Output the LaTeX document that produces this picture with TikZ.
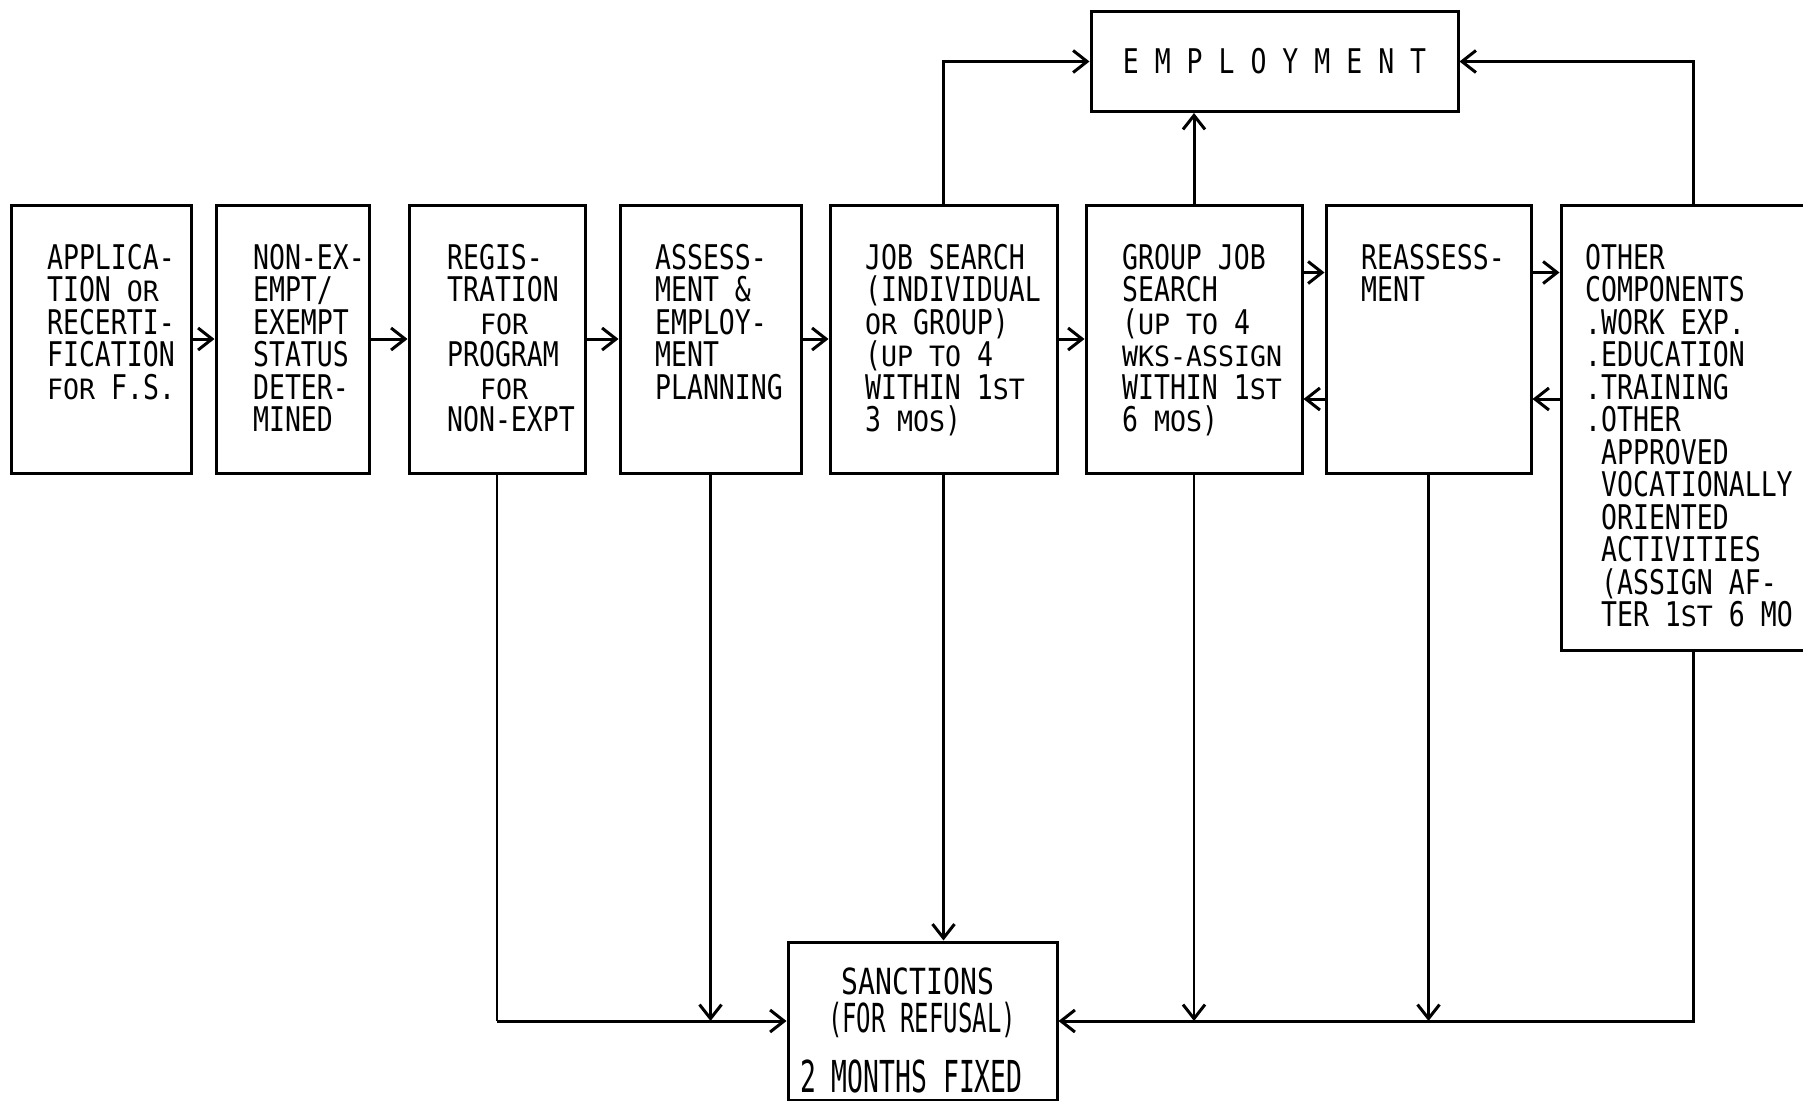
\documentclass[tikz,border=0pt]{standalone}
\usepackage{fontspec}
\usetikzlibrary{arrows.meta}
\newfontfamily\typer{DejaVu Sans Mono}[FakeStretch=0.78]
\newfontfamily\smtyper{DejaVu Sans Mono}[FakeStretch=0.95]
\newfontfamily\narrowtyper{DejaVu Sans Mono}[FakeStretch=0.6]
\newcommand{\sm}[1]{{\smtyper\fontsize{28}{32.5}\selectfont #1}}

\tikzset{every picture/.style={line width=2.2pt}}
\tikzset{
	stage/.style={draw, line width=3pt, inner sep=0pt, minimum height=268pt},
	stagetext/.style={anchor=north west, inner sep=0pt, align=left, font=\typer\fontsize{34}{32.5}\selectfont},
	flow/.style={line width=3pt, -{Straight Barb[length=14pt,width=22pt]}},
	drop/.style={line width=2.2pt, -{Straight Barb[length=14pt,width=22pt,line width=3pt]}}
}

\begin{document}
\begin{tikzpicture}[x=1pt,y=1pt,yscale=-1,xscale=1]
	\useasboundingbox (0,0) rectangle (1803,1100);

	%Shape: Rectangles
	\node[stage, minimum width=179.5pt] (app) at (101.25,339) {};
	\node[stage, minimum width=153pt] (stat) at (292.5,339) {};
	\node[stage, minimum width=176pt] (reg) at (497,339) {};
	\node[stage, minimum width=181pt] (asm) at (710.5,339) {};
	\node[stage, minimum width=227pt] (job) at (943.5,339) {};
	\node[stage, minimum width=216pt] (grp) at (1194,339) {};
	\node[stage, minimum width=205pt] (rea) at (1428.5,339) {};
	\node[stage, minimum width=264pt, minimum height=445pt] (oth) at (1693,427.5) {};
	\node[stage, minimum width=367pt, minimum height=100pt, font=\typer\fontsize{34}{32.5}\selectfont] (emp) at (1274.5,61.5) {E M P L O Y M E N T};
	\node[stage, minimum width=269pt, minimum height=158pt] (san) at (922.5,1021) {};

	% Text Node
	\node[stagetext] (appt) at (46,243) {APPLICA-\\TION \sm{OR}\\RECERTI-\\FICATION\\\sm{FOR} F.S.};
	% Text Node
	\node[stagetext] (statt) at (252,243) {NON-EX-\\EMPT/\\EXEMPT\\STATUS\\DETER-\\MINED};
	% Text Node
	\node[stagetext] (regt) at (446,243) {REGIS-\\TRATION\\\hspace*{33pt}\sm{FOR}\\PROGRAM\\\hspace*{33pt}\sm{FOR}\\NON-EXPT};
	% Text Node
	\node[stagetext] (asmt) at (654,243) {ASSESS-\\MENT \&\\EMPLOY-\\MENT\\PLANNING};
	% Text Node
	\node[stagetext] (jobt) at (864,243) {JOB SEARCH\\(INDIVIDUAL\\\sm{OR} GROUP)\\(\sm{UP TO} 4\\WITHIN 1\sm{ST}\\3 \sm{MOS})};
	% Text Node
	\node[stagetext] (grpt) at (1121,243) {GROUP JOB\\SEARCH\\(\sm{UP TO} 4\\\sm{WKS-ASSIGN}\\WITHIN 1\sm{ST}\\6 \sm{MOS})};
	% Text Node
	\node[stagetext] (reat) at (1360,243) {REASSESS-\\MENT};
	% Text Node
	\node[stagetext] (otht) at (1584,243) {OTHER\\COMPONENTS\\.WORK EXP.\\.EDUCATION\\.TRAINING\\.OTHER\\\hspace*{16pt}APPROVED\\\hspace*{16pt}VOCATIONALLY\\\hspace*{16pt}ORIENTED\\\hspace*{16pt}ACTIVITIES\\\hspace*{16pt}(ASSIGN AF-\\\hspace*{16pt}TER 1\sm{ST} 6 MO};
	% Text Node
	\node[anchor=base, inner sep=0pt, font=\typer\fontsize{36}{36}\selectfont] (sana) at (918,994) {SANCTIONS};
	% Text Node
	\node[anchor=base, inner sep=0pt, font=\narrowtyper\fontsize{40}{40}\selectfont] (sanb) at (922,1032) {(FOR REFUSAL)};
	% Text Node
	\node[anchor=base west, inner sep=0pt, font=\narrowtyper\fontsize{44}{44}\selectfont] (sanc) at (799,1092) {2 MONTHS FIXED};

	\coordinate (up) at (0,272.5);
	\coordinate (lo) at (0,399);

	%Straight Lines
	\draw[flow] (app.east) -- (stat.west);
	\draw[flow] (stat.east) -- (reg.west);
	\draw[flow] (reg.east) -- (asm.west);
	\draw[flow] (asm.east) -- (job.west);
	\draw[flow] (job.east) -- (grp.west);
	\draw[flow] (grp.east |- up) -- (rea.west |- up);
	\draw[flow] (rea.west |- lo) -- (grp.east |- lo);
	\draw[flow] (rea.east |- up) -- (oth.west |- up);
	\draw[flow] (oth.west |- lo) -- (rea.east |- lo);

	%Straight Lines
	\draw[flow] (job.north) |- (emp.west);
	\draw[flow] (grp.north) -- (grp.north |- emp.south);
	\draw[flow] (oth.north) |- (emp.east);

	%Straight Lines
	\draw (reg.south) -- (reg.south |- san.west);
	\draw[flow] (reg.south |- san.west) -- (san.west);
	\draw[drop] (asm.south) -- (asm.south |- san.west);
	\draw[drop] (job.south) -- (job.south |- san.north);
	\draw[drop] (grp.south) -- (grp.south |- san.east);
	\draw[drop] (rea.south) -- (rea.south |- san.east);
	\draw[flow] (oth.south) |- (san.east);

\end{tikzpicture}
\end{document}
